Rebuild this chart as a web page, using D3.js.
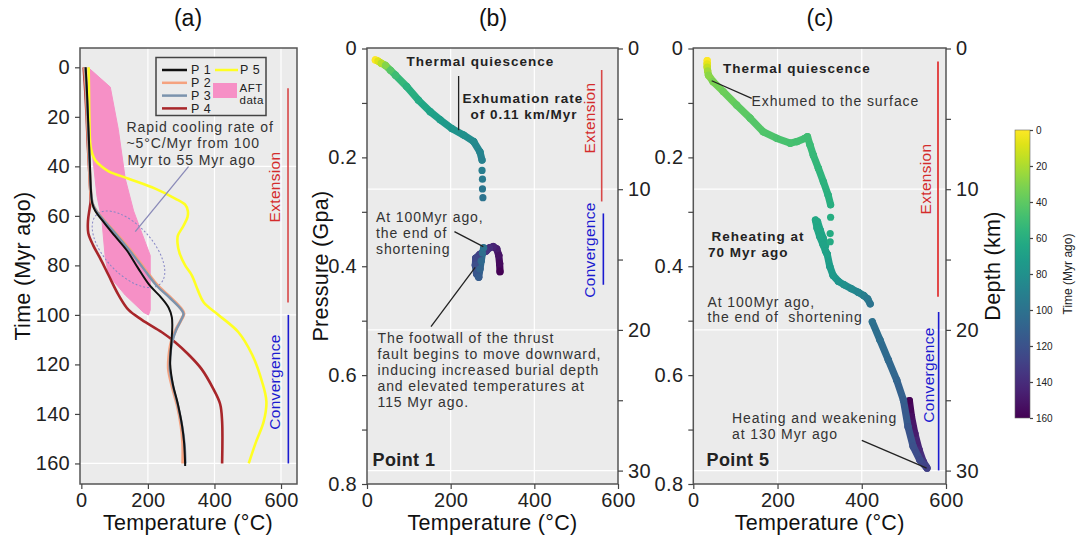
<!DOCTYPE html>
<html>
<head>
<meta charset="utf-8">
<script src="https://cdn.jsdelivr.net/npm/d3@7"></script>
<style>
body { margin: 0; background: #fff; }
svg text { font-family: "Liberation Sans", Arial, sans-serif; }
</style>
</head>
<body>
<script>
// ---- ticks
var tempTicks = [0, 200, 400, 600];
var timeTicks = [0, 20, 40, 60, 80, 100, 120, 140, 160];
var presTicks = [0, 0.1, 0.2, 0.3, 0.4, 0.5, 0.6, 0.7, 0.8];
var depthTicks = [0, 5, 10, 15, 20, 25, 30];
var cbarTicks = [0, 20, 40, 60, 80, 100, 120, 140, 160];

// ---- panel (a): [temperature, time]
var p1 = [[13,0],[17,10],[20,20],[23,30],[26,40],[29,50],[33,55],[42,58],[70,63],[100,68],[137,74],[170,81],[205,88],[240,93],[262,97],[272,101],[273,106],[270,112],[267,120],[275,128],[290,136],[303,145],[309,152],[312,161]];
var p2 = [[10,0],[15,10],[18,20],[21,30],[24,40],[28,50],[33,55],[45,58],[76,63],[110,68],[148,74],[188,81],[228,88],[268,93],[297,97],[308,99.5],[300,102],[284,106],[270,111],[263,117],[262,122],[273,129],[289,137],[300,145],[305,152],[305,160]];
var p3 = [[12,0],[16,10],[19,20],[22,30],[25,40],[29,50],[34,55],[45,58],[75,63],[108,68],[145,74],[185,81],[225,88],[265,93],[295,97],[307,99.5],[300,102],[285,106],[273,111],[267,117],[266,122],[276,129],[291,137],[303,145],[310,152],[313,160]];
var p4 = [[7,0],[12,10],[16,20],[19,30],[23,40],[27,50],[28,54],[25,57],[20,62],[21,67],[36,72],[56,77],[82,84],[112,92],[142,98],[182,102],[242,107],[282,111],[322,116],[362,122],[397,130],[417,136],[423,143],[423,160]];
var p5 = [[22,0],[23,10],[24,20],[27,31],[33,35],[42,37.5],[60,40],[82,42],[142,45],[222,49],[282,53],[312,55.5],[320,58],[319,60.5],[307,64],[290,68],[289,71],[295,75],[312,80],[332,84],[350,90],[368,95],[412,100],[472,107],[513,116],[543,127],[556,135],[548,143],[523,152],[503,160]];
var aftData = [[20,0],[87,8],[111,25],[132,45],[157,58],[207,76],[207,98],[202,100],[187,99],[132,92],[82,84],[72,77],[62,62],[47,52],[30,31],[22,10]];
var legendNames = ["P 1", "P 2", "P 3", "P 4", "P 5"];
var lineColors = ["#111111", "#f5a27f", "#7b93ad", "#a8262a", "#ffff22"];
var extensionSpan = [8.5, 95];
var convergenceSpan = [100, 160];

// ---- panel (b): [time, temperature, pressure]
var bTrack = [[0,20,0.021],[8,26,0.023],[18,34,0.027],[30,44,0.031],[42,56,0.04],[50,68,0.049],[57,95,0.07],[63,123,0.095],[68,151,0.116],[72,175,0.131],[76,203,0.147],[80,231,0.159],[84,255,0.171],[88,270,0.19],[91,275,0.205]];
var bDots = [[93,275,0.224],[95,276,0.24],[97,276,0.258],[99,277,0.274]];
var bLoop = [[160,318,0.41],[156,317,0.395],[152,315,0.38],[148,310,0.368],[144,302,0.364],[140,293,0.366],[136,285,0.372],[130,270,0.378],[126,260,0.385],[122,259,0.398],[118,262,0.414],[114,267,0.42],[110,270,0.405],[106,273,0.39],[103,276,0.376],[100,279,0.366]];

// ---- panel (c): [time, temperature, pressure]
var cTrack = [[0,33,0.022],[6,33,0.028],[14,33,0.034],[22,34,0.041],[28,36,0.049],[32,47,0.061],[36,71,0.079],[39,103,0.104],[42,135,0.128],[44,166,0.153],[46,198,0.165],[47,230,0.174],[48,246,0.171],[49,265,0.165],[50,271,0.162],[51,277,0.177],[53,285,0.196],[55,297,0.22],[57,309,0.245],[58.5,320,0.269],[60,326,0.287]];
var cDots = [[61,326,0.31],[62,325,0.34],[63,325,0.355]];
var cReheatA = [[64,290,0.315],[65,294,0.33],[66,300,0.345],[67,308,0.36],[68,314,0.372],[69,318,0.378]];
var cReheatB = [[64.5,295,0.318],[65.5,301,0.333],[66.5,308,0.348],[67.5,314,0.362]];
var cMid = [[70,318,0.378],[72,324,0.4],[74,332,0.417],[77,345,0.428],[80,358,0.434],[84,375,0.441],[88,392,0.448],[92,405,0.454],[96,414,0.46],[99,420,0.469]];
var cLower = [[101,425,0.502],[103,443,0.535],[106,463,0.572],[109,483,0.609],[113,499,0.646],[117,510,0.695],[121,522,0.731],[125,538,0.756],[130,555,0.771]];
var cPurple = [[160,513,0.647],[154,518,0.676],[148,526,0.707],[142,536,0.737],[136,546,0.759],[131,553,0.768]];

var W = 1090, H = 536;
var svg = d3.select("body").append("svg").attr("width", W).attr("height", H);

var bg = "#ebebeb", frameCol = "#555", tickCol = "#444", txtCol = "#222";
var extCol = "#d42b2b", convCol = "#1a1ad0";
var tickFont = 20, titleFont = 21.5;

var xA = d3.scaleLinear().domain([-4, 648]).range([80, 297]);
var yA = d3.scaleLinear().domain([-7.8, 168.3]).range([48, 484]);
var xB = d3.scaleLinear().domain([0, 600]).range([367, 618]);
var xC = d3.scaleLinear().domain([0, 600]).range([693.3, 946]);
var yP = d3.scaleLinear().domain([0, 0.8]).range([48.5, 484]);
var yD = d3.scaleLinear().domain([0, 30]).range([48.5, 470.6]);
var timeColor = function(t) { return d3.interpolateViridis(1 - t / 160); };

function styleAxis(g, size) {
    g.select(".domain").remove();
    g.selectAll(".tick line").attr("stroke", tickCol).attr("stroke-width", 1.2);
    g.selectAll(".tick text").attr("fill", txtCol).attr("font-size", size || tickFont)
        .attr("letter-spacing", size ? null : 0.3);
}

function panelBack(x0, x1) {
    svg.append("rect").attr("x", x0).attr("y", 48).attr("width", x1 - x0).attr("height", 436).attr("fill", bg);
}
function panelFrame(x0, x1) {
    svg.append("rect").attr("x", x0).attr("y", 48).attr("width", x1 - x0).attr("height", 436)
        .attr("fill", "none").attr("stroke", frameCol).attr("stroke-width", 1.5);
}
function label(x, y, txt, opts) {
    opts = opts || {};
    var t = svg.append("text").attr("x", x).attr("y", y).attr("dy", "0.35em")
        .attr("font-size", opts.size || 14).attr("fill", opts.fill || txtCol)
        .attr("text-anchor", opts.anchor || "start").text(txt);
    if (opts.bold) t.attr("font-weight", "bold");
    if (opts.ls) t.attr("letter-spacing", opts.ls);
    if (opts.rotate) t.attr("transform", "rotate(-90," + x + "," + y + ")");
    return t;
}
function pointer(x, y, a, b, col) {
    svg.append("line").attr("x1", x(a[0])).attr("y1", y(a[1])).attr("x2", x(b[0])).attr("y2", y(b[1]))
        .attr("stroke", col || "#222").attr("stroke-width", 1.3);
}
var note = {size: 14, ls: 0.9, fill: "#333"};
var boldNote = {size: 13.5, bold: true, ls: 1.0, fill: "#222"};

// ================= panel (a)
panelBack(80, 297);
[200, 400, 600].forEach(function(v) {
    svg.append("line").attr("x1", xA(v)).attr("x2", xA(v)).attr("y1", 48).attr("y2", 484).attr("stroke", "#fff").attr("stroke-width", 1.2);
});
[40, 100, 160].forEach(function(v) {
    svg.append("line").attr("y1", yA(v)).attr("y2", yA(v)).attr("x1", 80).attr("x2", 297).attr("stroke", "#fff").attr("stroke-width", 1.2);
});

svg.append("path").datum(aftData)
    .attr("d", d3.line().x(d => xA(d[0])).y(d => yA(d[1])).curve(d3.curveLinearClosed))
    .attr("fill", "#f690c6").attr("stroke", "#f690c6").attr("stroke-width", 1).attr("stroke-linejoin", "round");

// dashed ellipse around the rapid cooling part
svg.append("ellipse").attr("cx", 0).attr("cy", 0).attr("rx", 47).attr("ry", 24)
    .attr("transform", "translate(" + xA(141.7) + "," + yA(73.5) + ") rotate(47.6)")
    .attr("fill", "none").attr("stroke", "#8686c6").attr("stroke-width", 1).attr("stroke-dasharray", "2,2");

var lineA = d3.line().x(d => xA(d[0])).y(d => yA(d[1])).curve(d3.curveCatmullRom.alpha(0.5));
var seriesA = [p1, p2, p3, p4, p5];
var widthsA = [2, 3.2, 2.4, 2.6, 2.6];
[4, 3, 1, 2, 0].forEach(function(i) {
    svg.append("path").datum(seriesA[i]).attr("d", lineA)
        .attr("fill", "none").attr("stroke", lineColors[i]).attr("stroke-width", widthsA[i]);
});

pointer(xA, yA, [322, 40.1], [162, 66.4], "#8a8ab8");
label(126.5, 127, "Rapid cooling rate of", note);
label(126.5, 143.5, "~5\u00B0C/Myr from 100", note);
label(127.5, 160, "Myr to 55 Myr ago", note);

// legend
svg.append("rect").attr("x", 156).attr("y", 57.5).attr("width", 110).attr("height", 58)
    .attr("fill", bg).attr("stroke", "#444").attr("stroke-width", 1.5);
[0, 1, 2, 3].forEach(function(i) {
    var yy = 70 + i * 12.8;
    svg.append("line").attr("x1", 162).attr("x2", 187).attr("y1", yy).attr("y2", yy)
        .attr("stroke", lineColors[i]).attr("stroke-width", 2.5);
    label(191, yy, legendNames[i], {size: 12.5, ls: 0.6});
});
svg.append("line").attr("x1", 215).attr("x2", 238).attr("y1", 70).attr("y2", 70)
    .attr("stroke", lineColors[4]).attr("stroke-width", 2.5);
label(240, 70, legendNames[4], {size: 12.5, ls: 0.6});
svg.append("rect").attr("x", 213).attr("y", 83).attr("width", 24).attr("height", 15).attr("fill", "#f690c6");
label(239.5, 87.5, "AFT", {size: 11.5, ls: 0.5});
label(239.5, 99.5, "data", {size: 11.5, ls: 0.5});

// extension / convergence
svg.append("line").attr("x1", xA(621)).attr("x2", xA(621)).attr("y1", yA(extensionSpan[0])).attr("y2", yA(extensionSpan[1]))
    .attr("stroke", "#d84848").attr("stroke-width", 1.6);
svg.append("line").attr("x1", xA(622)).attr("x2", xA(622)).attr("y1", yA(convergenceSpan[0])).attr("y2", yA(convergenceSpan[1]))
    .attr("stroke", convCol).attr("stroke-width", 1.6);
label(275, 187, "Extension", {size: 15.5, fill: extCol, anchor: "middle", rotate: true, ls: 0.3});
label(275, 382, "Convergence", {size: 15.5, fill: convCol, anchor: "middle", rotate: true, ls: 0.3});

panelFrame(80, 297);
svg.append("g").attr("transform", "translate(0,484)")
    .call(d3.axisBottom(xA).tickValues(tempTicks).tickSize(5).tickPadding(4)).call(styleAxis);
svg.append("g").attr("transform", "translate(80,0)")
    .call(d3.axisLeft(yA).tickValues(timeTicks).tickSize(5).tickPadding(5)).call(styleAxis);

label(188, 18, "(a)", {size: 23, anchor: "middle", fill: "#111"});
label(188, 522, "Temperature (\u00B0C)", {size: titleFont, anchor: "middle", fill: "#111", ls: 0.3});
label(22, 266, "Time (Myr ago)", {size: titleFont, anchor: "middle", fill: "#111", rotate: true, ls: 0.3});

// ================= panels (b) and (c)
function drawTrack(x, rows, joined) {
    var g = svg.append("g");
    if (joined) {
        for (var i = 1; i < rows.length; i++) {
            g.append("line")
                .attr("x1", x(rows[i - 1][1])).attr("y1", yP(rows[i - 1][2]))
                .attr("x2", x(rows[i][1])).attr("y2", yP(rows[i][2]))
                .attr("stroke", timeColor((rows[i - 1][0] + rows[i][0]) / 2))
                .attr("stroke-width", 7.2).attr("stroke-linecap", "round");
        }
    }
    g.selectAll("circle").data(rows).enter().append("circle")
        .attr("cx", d => x(d[1])).attr("cy", d => yP(d[2])).attr("r", 3.6)
        .attr("fill", d => timeColor(d[0]));
}

function pressPanel(x, x0, x1) {
    panelBack(x0, x1);
    [200, 400].forEach(function(v) {
        svg.append("line").attr("x1", x(v)).attr("x2", x(v)).attr("y1", 48).attr("y2", 484).attr("stroke", "#fff").attr("stroke-width", 1.2);
    });
    [10, 20, 30].forEach(function(v) {
        svg.append("line").attr("y1", yD(v)).attr("y2", yD(v)).attr("x1", x0).attr("x2", x1).attr("stroke", "#fff").attr("stroke-width", 1.2);
    });
}
function pressAxes(x, x0, x1) {
    panelFrame(x0, x1);
    svg.append("g").attr("transform", "translate(0,484)")
        .call(d3.axisBottom(x).tickValues(tempTicks).tickSize(5).tickPadding(4)).call(styleAxis);
    svg.append("g").attr("transform", "translate(" + x0 + ",0)")
        .call(d3.axisLeft(yP).tickValues(presTicks).tickSize(5).tickPadding(5)
            .tickFormat(d => (Math.round(d * 10) % 2 === 0) ? (d === 0 ? "0" : d3.format(".1f")(d)) : ""))
        .call(styleAxis);
    svg.append("g").attr("transform", "translate(" + x1 + ",0)")
        .call(d3.axisRight(yD).tickValues(depthTicks).tickSize(5).tickPadding(5)
            .tickFormat(d => d % 10 === 0 ? d : ""))
        .call(styleAxis);
    label((x0 + x1) / 2, 522, "Temperature (\u00B0C)", {size: titleFont, anchor: "middle", fill: "#111", ls: 0.3});
}

// ---- (b)
pressPanel(xB, 367, 618);
drawTrack(xB, bLoop, true);
drawTrack(xB, bDots, false);
drawTrack(xB, bTrack, true);

svg.append("line").attr("x1", xB(561)).attr("x2", xB(561)).attr("y1", yP(0.0395)).attr("y2", yP(0.281))
    .attr("stroke", "#d84848").attr("stroke-width", 1.6);
svg.append("line").attr("x1", xB(565)).attr("x2", xB(565)).attr("y1", yP(0.303)).attr("y2", yP(0.434))
    .attr("stroke", convCol).attr("stroke-width", 1.6);
label(590, 118, "Extension", {size: 15.5, fill: extCol, anchor: "middle", rotate: true, ls: 0.3});
label(590, 250, "Convergence", {size: 15.5, fill: convCol, anchor: "middle", rotate: true, ls: 0.3});

pointer(xB, yP, [219, 0.0505], [219, 0.15]);
pointer(xB, yP, [209, 0.3365], [278, 0.364]);
pointer(xB, yP, [153, 0.511], [258.6, 0.402]);
label(406.5, 61, "Thermal quiescence", boldNote);
label(462.5, 98, "Exhumation rate", boldNote);
label(470.5, 114, "of 0.11 km/Myr", boldNote);
label(376, 217, "At 100Myr ago,", note);
label(376, 233, "the end of", note);
label(376, 249, "shortening", note);
["The footwall of the thrust", "fault begins to move downward,", "inducing increased burial depth",
 "and elevated temperatures at", "115 Myr ago."].forEach(function(s, i) {
    label(377.5, 338 + i * 16, s, note);
});
label(372.5, 460, "Point 1", {size: 18, bold: true, fill: "#222", ls: 0.4});
pressAxes(xB, 367, 618);
label(493, 18, "(b)", {size: 23, anchor: "middle", fill: "#111"});
label(320, 266, "Pressure (Gpa)", {size: titleFont, anchor: "middle", fill: "#111", rotate: true, ls: 0.3});

// ---- (c)
pressPanel(xC, 693.3, 946);
drawTrack(xC, cPurple, true);
drawTrack(xC, cLower, true);
drawTrack(xC, cMid, true);
drawTrack(xC, cReheatB, true);
drawTrack(xC, cReheatA, true);
drawTrack(xC, cDots, false);
drawTrack(xC, cTrack, true);

svg.append("line").attr("x1", xC(581)).attr("x2", xC(581)).attr("y1", yP(0.024)).attr("y2", yP(0.456))
    .attr("stroke", "#e02020").attr("stroke-width", 1.6);
svg.append("line").attr("x1", xC(582.5)).attr("x2", xC(582.5)).attr("y1", yP(0.484)).attr("y2", yP(0.775))
    .attr("stroke", convCol).attr("stroke-width", 1.6);
label(926, 179, "Extension", {size: 15.5, fill: extCol, anchor: "middle", rotate: true, ls: 0.3});
label(928.5, 375, "Convergence", {size: 15.5, fill: convCol, anchor: "middle", rotate: true, ls: 0.3});

pointer(xC, yP, [138.7, 0.0915], [43.7, 0.0592]);
pointer(xC, yP, [400, 0.72], [554, 0.771]);
label(723, 68.5, "Thermal quiescence", boldNote);
label(751.5, 101.5, "Exhumed to the surface", note);
label(711.5, 236, "Reheating at", boldNote);
label(708, 252, "70 Myr ago", boldNote);
label(707.5, 302, "At 100Myr ago,", note);
label(707.5, 317.5, "the end of  shortening", note).attr("xml:space", "preserve");
label(732, 418.5, "Heating and weakening", note);
label(732, 434.5, "at 130 Myr ago", note);
label(706.5, 460, "Point 5", {size: 18, bold: true, fill: "#222", ls: 0.4});
pressAxes(xC, 693.3, 946);
label(820, 18, "(c)", {size: 23, anchor: "middle", fill: "#111"});
label(992, 266, "Depth (km)", {size: titleFont, anchor: "middle", fill: "#111", rotate: true, ls: 0.3});

// ================= colour bar
var cbY = d3.scaleLinear().domain([0, 160]).range([130, 418]);
var grad = svg.append("defs").append("linearGradient").attr("id", "vir")
    .attr("x1", 0).attr("y1", 0).attr("x2", 0).attr("y2", 1);
d3.range(0, 1.001, 0.05).forEach(function(f) {
    grad.append("stop").attr("offset", f).attr("stop-color", timeColor(f * 160));
});
svg.append("rect").attr("x", 1015).attr("y", cbY(0)).attr("width", 15).attr("height", cbY(160) - cbY(0))
    .attr("fill", "url(#vir)").attr("stroke", "#666").attr("stroke-width", 0.6);
svg.append("g").attr("transform", "translate(1030,0)")
    .call(d3.axisRight(cbY).tickValues(cbarTicks).tickSize(3).tickPadding(3))
    .call(g => styleAxis(g, 10));
label(1068, 274, "Time (Myr ago)", {size: 12, anchor: "middle", fill: "#222", rotate: true});
</script>
</body>
</html>
